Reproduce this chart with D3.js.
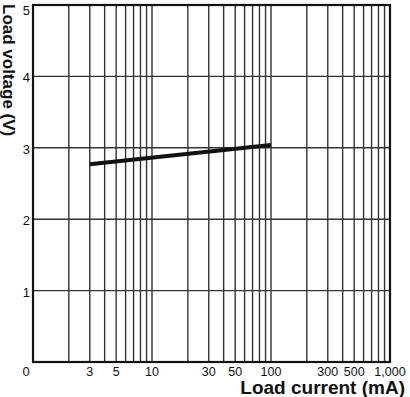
<!DOCTYPE html>
<html>
<head>
<meta charset="utf-8">
<script src="https://cdn.jsdelivr.net/npm/d3@7"></script>
<style>
  body { margin: 0; background: #fff; }
  text { font-family: "Liberation Sans", Arial, sans-serif; fill: #111; }
</style>
</head>
<body>
<script>
// data
var current = [3, 100];          // mA
var voltage = [2.77, 3.04];      // V
var xGrid = [2, 3, 4, 5, 6, 7, 8, 9, 10, 20, 30, 40, 50, 60, 70, 80, 90, 100, 200, 300, 400, 500, 600, 700, 800, 900];
var xTickVals = [3, 5, 10, 30, 50, 100, 300, 500, 1000];
var xTickText = ["3", "5", "10", "30", "50", "100", "300", "500", "1,000"];
var yTickVals = [1, 2, 3, 4, 5];

(function chart(){
  var W = 410, H = 397;
  var pLeft = 33, pRight = 390, pTop = 5, pBottom = 362;

  var svg = d3.select("body").append("svg")
    .attr("width", W)
    .attr("height", H);

  var x = d3.scaleLog().domain([1, 1000]).range([pLeft, pRight]);
  var y = d3.scaleLinear().domain([0, 5]).range([pBottom, pTop]);

  // grid
  svg.selectAll(".vgrid").data(xGrid).enter().append("line")
    .attr("class", "vgrid")
    .attr("x1", function(d){ return x(d); })
    .attr("x2", function(d){ return x(d); })
    .attr("y1", pTop).attr("y2", pBottom)
    .attr("stroke", "#333").attr("stroke-width", 1.4);

  svg.selectAll(".hgrid").data([1, 2, 3, 4]).enter().append("line")
    .attr("class", "hgrid")
    .attr("x1", pLeft).attr("x2", pRight)
    .attr("y1", function(d){ return y(d); })
    .attr("y2", function(d){ return y(d); })
    .attr("stroke", "#333").attr("stroke-width", 1.4);

  // frame
  svg.append("rect")
    .attr("x", pLeft).attr("y", pTop)
    .attr("width", pRight - pLeft).attr("height", pBottom - pTop)
    .attr("fill", "none").attr("stroke", "#111").attr("stroke-width", 2.2);

  // the curve
  var line = d3.line()
    .x(function(d){ return x(d[0]); })
    .y(function(d){ return y(d[1]); });
  svg.append("path")
    .datum(d3.zip(current, voltage))
    .attr("d", line)
    .attr("fill", "none").attr("stroke", "#111").attr("stroke-width", 4);

  // tick labels
  svg.selectAll(".xt").data(xTickVals).enter().append("text")
    .attr("class", "xt")
    .attr("x", function(d){ return x(d); })
    .attr("y", pBottom + 14)
    .attr("text-anchor", "middle")
    .style("font-size", "12.5px")
    .text(function(d, i){ return xTickText[i]; });

  svg.append("text")
    .attr("x", 26).attr("y", pBottom + 14)
    .attr("text-anchor", "middle")
    .style("font-size", "13px")
    .text("0");

  // top label sits below the frame corner, the rest centre on their line
  svg.selectAll(".yt").data(yTickVals).enter().append("text")
    .attr("class", "yt")
    .attr("x", 30)
    .attr("y", function(d){ return d === 5 ? y(d) + 10 : y(d) + 6; })
    .attr("text-anchor", "end")
    .style("font-size", "13px")
    .text(function(d){ return d; });

  // axis titles
  svg.append("text")
    .attr("x", 405).attr("y", 394)
    .attr("text-anchor", "end")
    .style("font-size", "19px").style("font-weight", "bold")
    .text("Load current (mA)");

  svg.append("text")
    .attr("transform", "translate(3,4) rotate(90)")
    .attr("text-anchor", "start")
    .style("font-size", "17px").style("font-weight", "bold")
    .text("Load voltage (V)");
})();
</script>
</body>
</html>
